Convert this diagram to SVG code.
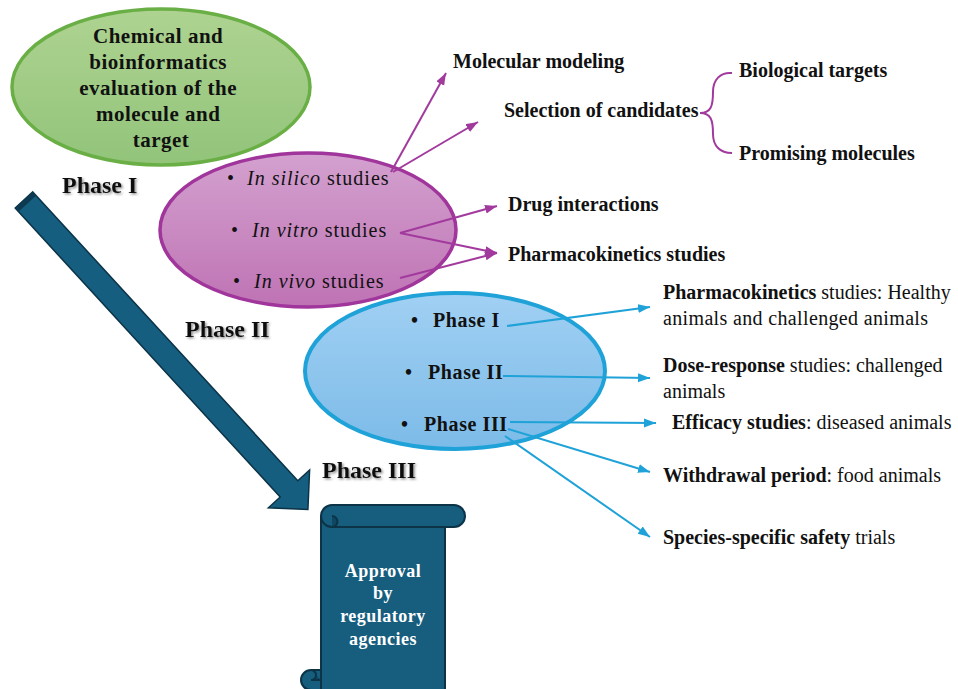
<svg xmlns="http://www.w3.org/2000/svg" width="958" height="689" viewBox="0 0 958 689">
<defs>
<style>
.t{font-family:"Liberation Serif","Times New Roman",serif;fill:#111}
.b{font-weight:bold}
.i{font-style:italic}
.lab{font-family:"Liberation Serif","Times New Roman",serif;font-weight:bold;font-size:24px;fill:#111}
.pl{fill:none;stroke:#a23a9e;stroke-width:2}
.bl{fill:none;stroke:#1fa2d8;stroke-width:2}
.scroll{fill:#165d7e;stroke:#0c3346;stroke-width:2;stroke-linejoin:round}
.w{font-family:"Liberation Serif","Times New Roman",serif;font-weight:bold;font-size:18px;fill:#fff;letter-spacing:0.5px}
</style>
<linearGradient id="gG" x1="0" y1="0" x2="0" y2="1"><stop offset="0" stop-color="#aed391"/><stop offset="1" stop-color="#92c47a"/></linearGradient>
<linearGradient id="gM" x1="0" y1="0" x2="0" y2="1"><stop offset="0" stop-color="#d3a1cf"/><stop offset="1" stop-color="#bf73b4"/></linearGradient>
<linearGradient id="gB" x1="0" y1="0" x2="0" y2="1"><stop offset="0" stop-color="#a1d0f3"/><stop offset="1" stop-color="#7cbbe8"/></linearGradient>
<marker id="mP" markerUnits="userSpaceOnUse" markerWidth="13" markerHeight="10" refX="12" refY="4.5" orient="auto"><path d="M0,0 L12,4.5 L0,9 Z" fill="#a23a9e"/></marker>
<marker id="mB" markerUnits="userSpaceOnUse" markerWidth="13" markerHeight="10" refX="12" refY="4.5" orient="auto"><path d="M0,0 L12,4.5 L0,9 Z" fill="#1fa2d8"/></marker>
<filter id="sh" x="-10%" y="-30%" width="130%" height="170%"><feDropShadow dx="1.5" dy="1.5" stdDeviation="1" flood-color="#666" flood-opacity="0.7"/></filter>
</defs>

<g id="main-arrow">
<polygon points="32.8,191.9 297.8,480.8 309.6,470.0 307.9,509.5 268.4,507.8 280.2,497.0 15.2,208.1" fill="#165e7f" stroke="#0b3347" stroke-width="1.5" stroke-linejoin="miter"/>
<polygon points="32.8,191.9 36.2,195.6 18.5,211.8 15.2,208.1" fill="#0d3a50"/>
</g>

<g id="node-chemical">
<ellipse cx="161" cy="87" rx="149" ry="78" fill="url(#gG)" stroke="#6aaf45" stroke-width="3.5"/>
<text class="t b" font-size="21" text-anchor="middle" letter-spacing="0.5">
<tspan x="161" y="43">Chemical and</tspan>
<tspan x="161" y="69">bioinformatics</tspan>
<tspan x="161" y="95">evaluation of the</tspan>
<tspan x="161" y="121">molecule and</tspan>
<tspan x="161" y="147">target</tspan>
</text>
</g>

<g id="node-phase2">
<ellipse cx="308" cy="230" rx="148" ry="77" fill="url(#gM)" stroke="#a0359b" stroke-width="3.5"/>
<text class="t" font-size="20" letter-spacing="1"><tspan x="227" y="185">•</tspan><tspan x="247" y="185" class="i">In silico</tspan><tspan> studies</tspan></text>
<text class="t" font-size="20" letter-spacing="1"><tspan x="231" y="237">•</tspan><tspan x="252" y="237" class="i">In vitro</tspan><tspan> studies</tspan></text>
<text class="t" font-size="20" letter-spacing="1"><tspan x="233" y="288">•</tspan><tspan x="254" y="288" class="i">In vivo</tspan><tspan> studies</tspan></text>
</g>

<g id="node-phase3">
<ellipse cx="455" cy="371" rx="150" ry="78" fill="url(#gB)" stroke="#1fa2d8" stroke-width="4"/>
<text class="t b" font-size="20" letter-spacing="0.6"><tspan x="411" y="327">•</tspan><tspan x="433" y="327">Phase I</tspan></text>
<text class="t b" font-size="20" letter-spacing="0.6"><tspan x="405" y="379">•</tspan><tspan x="428" y="379">Phase II</tspan></text>
<text class="t b" font-size="20" letter-spacing="0.6"><tspan x="401" y="431">•</tspan><tspan x="424" y="431">Phase III</tspan></text>
</g>

<g id="phase-labels" filter="url(#sh)">
<text class="lab" x="62" y="193">Phase I</text>
<text class="lab" x="185" y="337">Phase II</text>
<text class="lab" x="322" y="478">Phase III</text>
</g>

<g id="node-approval">
<rect class="scroll" x="321" y="516" width="124" height="190"/>
<path class="scroll" d="M332,505 H454 A11,11 0 0 1 454,527 H332 A11,11 0 0 1 332,505 Z"/>
<path d="M332,516 A5.5,5.5 0 0 1 332,527" fill="#0f4763" stroke="#0c3346" stroke-width="2"/>
<path class="scroll" d="M321,670 H311 A10,10 0 0 0 311,690 H321 Z"/>
<path d="M311,670 A5,5 0 0 1 311,680 H321" fill="#0f4763" stroke="#0c3346" stroke-width="2"/>
<text class="w" text-anchor="middle"><tspan x="383" y="577">Approval</tspan><tspan x="383" y="599">by</tspan><tspan x="383" y="622">regulatory</tspan><tspan x="383" y="645">agencies</tspan></text>
</g>

<g id="node-molecular-modeling"><text class="t b" font-size="20" x="453" y="68">Molecular modeling</text></g>
<g id="node-selection"><text class="t b" font-size="20" x="504" y="117">Selection of candidates</text></g>
<g id="node-biological"><text class="t b" font-size="20" x="739" y="77">Biological targets</text></g>
<g id="node-promising"><text class="t b" font-size="20" x="739" y="160">Promising molecules</text></g>
<g id="node-drug"><text class="t b" font-size="20" x="508" y="211">Drug interactions</text></g>
<g id="node-pk"><text class="t b" font-size="20" x="508" y="261">Pharmacokinetics studies</text></g>

<g id="node-pk-healthy"><text class="t" font-size="20"><tspan x="663" y="299" class="b">Pharmacokinetics</tspan><tspan> studies: Healthy</tspan><tspan x="663" y="325" letter-spacing="0.35">animals and challenged animals</tspan></text></g>
<g id="node-dose"><text class="t" font-size="20"><tspan x="663" y="372" class="b">Dose-response</tspan><tspan> studies: challenged</tspan><tspan x="663" y="398">animals</tspan></text></g>
<g id="node-efficacy"><text class="t" font-size="20" x="672" y="429"><tspan class="b">Efficacy studies</tspan><tspan>: diseased animals</tspan></text></g>
<g id="node-withdrawal"><text class="t" font-size="20" x="663" y="482"><tspan class="b">Withdrawal period</tspan><tspan>: food animals</tspan></text></g>
<g id="node-species"><text class="t" font-size="20" x="663" y="544"><tspan class="b">Species-specific safety</tspan><tspan> trials</tspan></text></g>

<g id="connectors">
<line class="pl" x1="391" y1="172" x2="446" y2="73" marker-end="url(#mP)"/>
<line class="pl" x1="393" y1="172" x2="478" y2="122" marker-end="url(#mP)"/>
<line class="pl" x1="400" y1="233" x2="497" y2="206" marker-end="url(#mP)"/>
<line class="pl" x1="400" y1="233" x2="497" y2="253" marker-end="url(#mP)"/>
<line class="pl" x1="400" y1="278" x2="497" y2="253" marker-end="url(#mP)"/>
<path class="pl" d="M732,73 C720,72 713,80 713,92 C713,106 711,113 700,113 C711,113 713,120 713,134 C713,146 720,153 732,153"/>
<line class="bl" x1="507" y1="326" x2="650" y2="307" marker-end="url(#mB)"/>
<line class="bl" x1="503" y1="376" x2="650" y2="378" marker-end="url(#mB)"/>
<line class="bl" x1="510" y1="422" x2="656" y2="423" marker-end="url(#mB)"/>
<line class="bl" x1="508" y1="429" x2="650" y2="472" marker-end="url(#mB)"/>
<line class="bl" x1="505" y1="436" x2="650" y2="537" marker-end="url(#mB)"/>
</g>
</svg>
